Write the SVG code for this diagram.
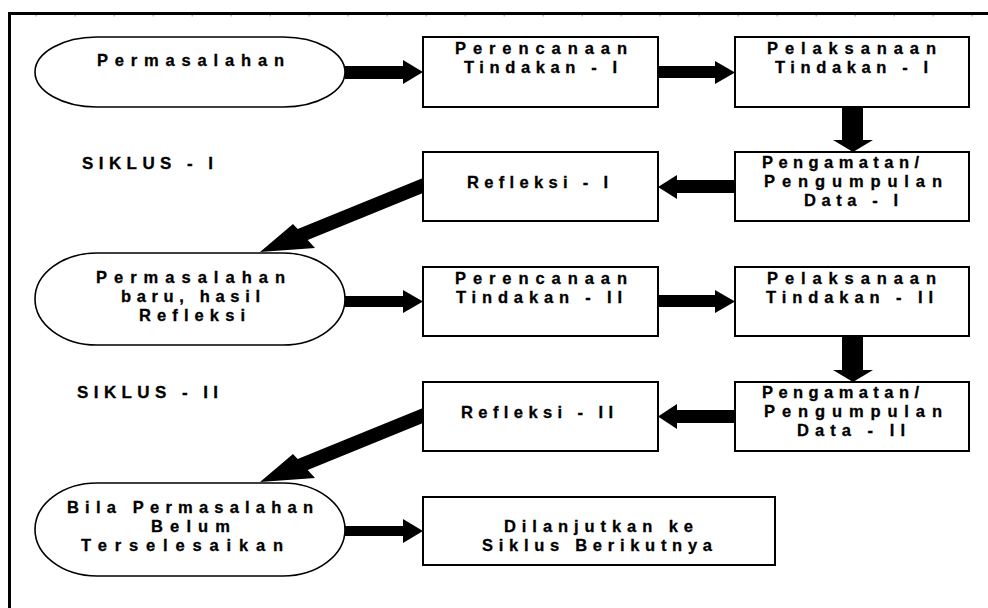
<svg xmlns="http://www.w3.org/2000/svg" width="988" height="608" viewBox="0 0 988 608">
<style>
.frame{fill:none;stroke:#000;stroke-width:3}
.tick{fill:none;stroke:#bbb;stroke-width:1.5;stroke-dasharray:1.5 37.5}
.box{fill:#fff;stroke:#000;stroke-width:2}
.oval{fill:#fff;stroke:#000;stroke-width:1.6}
.arrow{fill:#000;stroke:none}
text{font-family:"Liberation Sans",Arial,sans-serif;font-weight:bold;font-size:16.5px;fill:#000;stroke:#000;stroke-width:0.3}
.lbl{font-size:17px}
</style>
<rect x="0" y="0" width="988" height="608" fill="#fff"/>
<g id="frame">
<path class="frame" d="M9.5,608 V13.5 H988"/>
<path class="tick" d="M35.5,15.8 H988"/>
</g>
<g id="connectors">
<polygon class="arrow" points="345,66 403,66 403,60 423,72 403,84 403,79 345,79"/>
<polygon class="arrow" points="658,66 715,66 715,61 735,72.5 715,84 715,78 658,78"/>
<polygon class="arrow" points="842,107 863,107 863,140 873,140 853,152 833,140 842,140"/>
<polygon class="arrow" points="735,180 677,180 677,175 658,187 677,199 677,193 735,193"/>
<polygon class="arrow" points="423,178 297.7,229.1 293,224 260,252 315,248 307.7,240.1 423,193"/>
<polygon class="arrow" points="345,296 403,296 403,290 423,301.5 403,313 403,307 345,307"/>
<polygon class="arrow" points="658,295 715,295 715,290 735,301.5 715,313 715,307 658,307"/>
<polygon class="arrow" points="842,336 863,336 863,370 873,370 853,382 833,370 842,370"/>
<polygon class="arrow" points="735,410 677,410 677,404 658,416.5 677,429 677,423 735,423"/>
<polygon class="arrow" points="423,408 297.7,459.1 293,454 260,482 315,478 307.7,470.1 423,423"/>
<polygon class="arrow" points="345,526 403,526 403,519 423,531 403,543 403,536 345,536"/>
</g>
<g id="permasalahan">
<rect class="oval" x="35" y="37" width="310" height="70" rx="62" ry="35"/>
<text x="97" y="66" textLength="187" lengthAdjust="spacing">Permasalahan</text>
</g>
<g id="perencanaan1">
<rect class="box" x="423" y="37" width="235" height="70"/>
<text x="455" y="54" textLength="172" lengthAdjust="spacing">Perencanaan</text>
<text x="464" y="73" textLength="153" lengthAdjust="spacing">Tindakan - I</text>
</g>
<g id="pelaksanaan1">
<rect class="box" x="735" y="37" width="234" height="70"/>
<text x="767" y="54" textLength="169" lengthAdjust="spacing">Pelaksanaan</text>
<text x="775" y="73" textLength="153" lengthAdjust="spacing">Tindakan - I</text>
</g>
<g id="siklus1">
<text class="lbl" x="82" y="169" textLength="131" lengthAdjust="spacing">SIKLUS - I</text>
</g>
<g id="pengamatan1">
<rect class="box" x="735" y="152" width="234" height="69"/>
<text x="762" y="168" textLength="157" lengthAdjust="spacing">Pengamatan/</text>
<text x="764" y="187" textLength="178" lengthAdjust="spacing">Pengumpulan</text>
<text x="804" y="206" textLength="94" lengthAdjust="spacing">Data - I</text>
</g>
<g id="refleksi1">
<rect class="box" x="423" y="152" width="235" height="69"/>
<text x="467" y="188" textLength="141" lengthAdjust="spacing">Refleksi - I</text>
</g>
<g id="permasalahan-baru">
<rect class="oval" x="35" y="253" width="310" height="92" rx="62" ry="46"/>
<text x="96" y="283" textLength="189" lengthAdjust="spacing">Permasalahan</text>
<text x="121" y="302" textLength="139" lengthAdjust="spacing">baru, hasil</text>
<text x="139" y="321" textLength="106" lengthAdjust="spacing">Refleksi</text>
</g>
<g id="perencanaan2">
<rect class="box" x="423" y="267" width="235" height="69"/>
<text x="455" y="284" textLength="172" lengthAdjust="spacing">Perencanaan</text>
<text x="456" y="303" textLength="166" lengthAdjust="spacing">Tindakan - II</text>
</g>
<g id="pelaksanaan2">
<rect class="box" x="735" y="267" width="234" height="69"/>
<text x="767" y="284" textLength="169" lengthAdjust="spacing">Pelaksanaan</text>
<text x="766" y="303" textLength="167" lengthAdjust="spacing">Tindakan - II</text>
</g>
<g id="siklus2">
<text class="lbl" x="77" y="398" textLength="141" lengthAdjust="spacing">SIKLUS - II</text>
</g>
<g id="pengamatan2">
<rect class="box" x="735" y="382" width="234" height="69"/>
<text x="762" y="398" textLength="157" lengthAdjust="spacing">Pengamatan/</text>
<text x="764" y="417" textLength="178" lengthAdjust="spacing">Pengumpulan</text>
<text x="797" y="436" textLength="108" lengthAdjust="spacing">Data - II</text>
</g>
<g id="refleksi2">
<rect class="box" x="423" y="382" width="235" height="69"/>
<text x="461" y="418" textLength="152" lengthAdjust="spacing">Refleksi - II</text>
</g>
<g id="bila-permasalahan">
<rect class="oval" x="35" y="483" width="310" height="93" rx="62" ry="46.5"/>
<text x="67" y="513" textLength="246" lengthAdjust="spacing">Bila Permasalahan</text>
<text x="151" y="532" textLength="79" lengthAdjust="spacing">Belum</text>
<text x="81" y="551" textLength="202" lengthAdjust="spacing">Terselesaikan</text>
</g>
<g id="dilanjutkan">
<rect class="box" x="423" y="497" width="352" height="68"/>
<text x="504" y="532" textLength="189" lengthAdjust="spacing">Dilanjutkan ke</text>
<text x="482" y="551" textLength="230" lengthAdjust="spacing">Siklus Berikutnya</text>
</g>
</svg>
